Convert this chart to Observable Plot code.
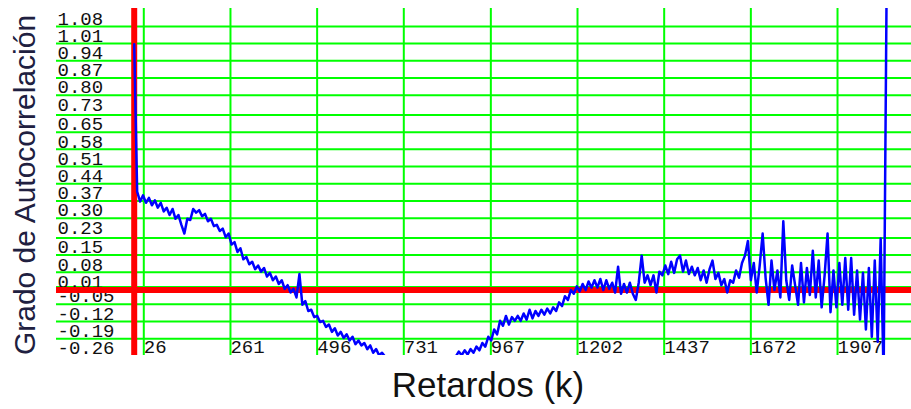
<!DOCTYPE html>
<html><head><meta charset="utf-8">
<script src="https://cdn.jsdelivr.net/npm/d3@7"></script>
<script src="https://cdn.jsdelivr.net/npm/@observablehq/plot@0.6"></script>
<style>body{margin:0;background:#fff;}</style>
</head><body><div id="chart"></div>
<script>
// Y tick labels as printed on the chart
const yTicks = [1.08, 1.01, 0.94, 0.87, 0.80, 0.73, 0.65, 0.58, 0.51, 0.44, 0.37, 0.30, 0.23, 0.15, 0.08, 0.01, -0.05, -0.12, -0.19, -0.26];
// X tick labels (lags)
const xTicks = [26, 261, 496, 731, 967, 1202, 1437, 1672, 1907];
const lagStep = 8;
const acf = [
  1.00, 0.40, 0.36, 0.385, 0.355, 0.375, 0.345, 0.365, 0.335, 0.355,
  0.32, 0.335, 0.305, 0.33, 0.29, 0.305, 0.265, 0.23, 0.29, 0.285,
  0.33, 0.315, 0.325, 0.30, 0.31, 0.28, 0.29, 0.26, 0.265, 0.24,
  0.25, 0.215, 0.23, 0.185, 0.195, 0.155, 0.17, 0.125, 0.135, 0.105,
  0.115, 0.085, 0.10, 0.075, 0.09, 0.055, 0.07, 0.04, 0.055, 0.025,
  0.04, 0.005, 0.02, -0.01, 0.005, -0.03, 0.065, -0.06, -0.045, -0.085,
  -0.08, -0.11, -0.105, -0.13, -0.125, -0.15, -0.14, -0.17, -0.155, -0.185,
  -0.17, -0.195, -0.18, -0.205, -0.19, -0.22, -0.205, -0.225, -0.215, -0.24,
  -0.225, -0.255, -0.24, -0.265, -0.255, -0.27, -0.275, -0.28, -0.285, -0.29,
  -0.295, -0.30, -0.30, -0.305, -0.31, -0.31, -0.315, -0.315, -0.31, -0.315,
  -0.31, -0.305, -0.30, -0.30, -0.295, -0.29, -0.285, -0.28, -0.275, -0.27,
  -0.25, -0.265, -0.245, -0.262, -0.24, -0.255, -0.23, -0.245, -0.215, -0.23,
  -0.19, -0.205, -0.16, -0.18, -0.125, -0.145, -0.105, -0.14, -0.11, -0.125,
  -0.105, -0.125, -0.095, -0.12, -0.08, -0.115, -0.085, -0.105, -0.08, -0.10,
  -0.075, -0.095, -0.07, -0.085, -0.05, -0.065, -0.025, -0.04, 0.0, -0.015,
  0.015, -0.005, 0.025, 0.0, 0.035, 0.01, 0.04, 0.01, 0.045, 0.0,
  0.04, 0.005, 0.03, -0.01, 0.095, -0.015, 0.025, -0.01, 0.03, -0.015,
  -0.04, 0.03, 0.14, 0.03, 0.06, 0.02, 0.06, -0.01, 0.075, 0.06,
  0.10, 0.065, 0.115, 0.07, 0.125, 0.14, 0.075, 0.12, 0.065, 0.095,
  0.06, 0.09, 0.04, 0.08, 0.03, 0.085, 0.12, 0.045, 0.07, 0.02,
  0.045, -0.01, 0.04, 0.03, 0.08, 0.05, 0.11, 0.14, 0.20, 0.04,
  0.11, -0.01, 0.10, 0.23, 0.05, -0.06, 0.12, 0.0, 0.08, -0.03,
  0.28, 0.04, -0.04, 0.10, 0.02, -0.06, 0.11, -0.05, 0.09, -0.02,
  0.16, -0.03, 0.12, -0.07, 0.06, 0.23, -0.09, 0.08, -0.07, 0.11,
  -0.06, 0.13, -0.08, 0.13, -0.10, 0.08, -0.12, 0.07, -0.16, 0.09,
  -0.19, 0.12, -0.21, 0.21, -0.35, 1.20
];
const xTitle = "Retardos (k)";
const yTitle = "Grado de Autocorrelación";

const series = acf.map((v, i) => ({lag: i * lagStep, value: v}));
const tickFont = "'Liberation Mono', 'DejaVu Sans Mono', monospace";
const titleFont = "'Liberation Sans', Arial, sans-serif";

const chart = Plot.plot({
  width: 911, height: 409,
  marginLeft: 56, marginRight: 0, marginTop: 8, marginBottom: 54,
  x: {domain: [-210.7, 2107.6], axis: null},
  y: {domain: [-0.266, 1.145], axis: null},
  style: {background: "#fff", overflow: "visible"},
  marks: [
    Plot.ruleX(xTicks, {stroke: "#00ff00", strokeWidth: 2}),
    Plot.ruleY(yTicks.slice(1), {stroke: "#00ff00", strokeWidth: 2, dy: -15.3}),
    Plot.axisY(yTicks, {anchor: "left", tickSize: 0, tickPadding: 0, textAnchor: "start", dx: 1, dy: -6,
      tickFormat: d => d.toFixed(2), fontSize: 19, fontFamily: tickFont, fill: "#111", label: null}),
    Plot.axisX(xTicks, {anchor: "bottom", tickSize: 0, tickPadding: 0, textAnchor: "start", dy: -16,
      tickFormat: d => String(d), fontSize: 19, fontFamily: tickFont, fill: "#111", label: null}),
    Plot.ruleX([0], {stroke: "#ff0000", strokeWidth: 6}),
    Plot.ruleY([0], {stroke: "#ff0000", strokeWidth: 6}),
    Plot.line(series, {x: "lag", y: "value", stroke: "#0000ff", strokeWidth: 2.5, clip: true}),
    Plot.text([yTitle], {text: d => d, frameAnchor: "left", textAnchor: "middle", lineAnchor: "middle",
      rotate: -90, dx: -31.5, dy: 3, fontSize: 30, fontFamily: titleFont, fill: "#202040"}),
    Plot.text([xTitle], {text: d => d, frameAnchor: "bottom", textAnchor: "middle", lineAnchor: "middle",
      dx: 4, dy: 30, fontSize: 35, fontFamily: titleFont, fill: "#111"})
  ]
});
document.getElementById("chart").appendChild(chart);
</script>
</body></html>
